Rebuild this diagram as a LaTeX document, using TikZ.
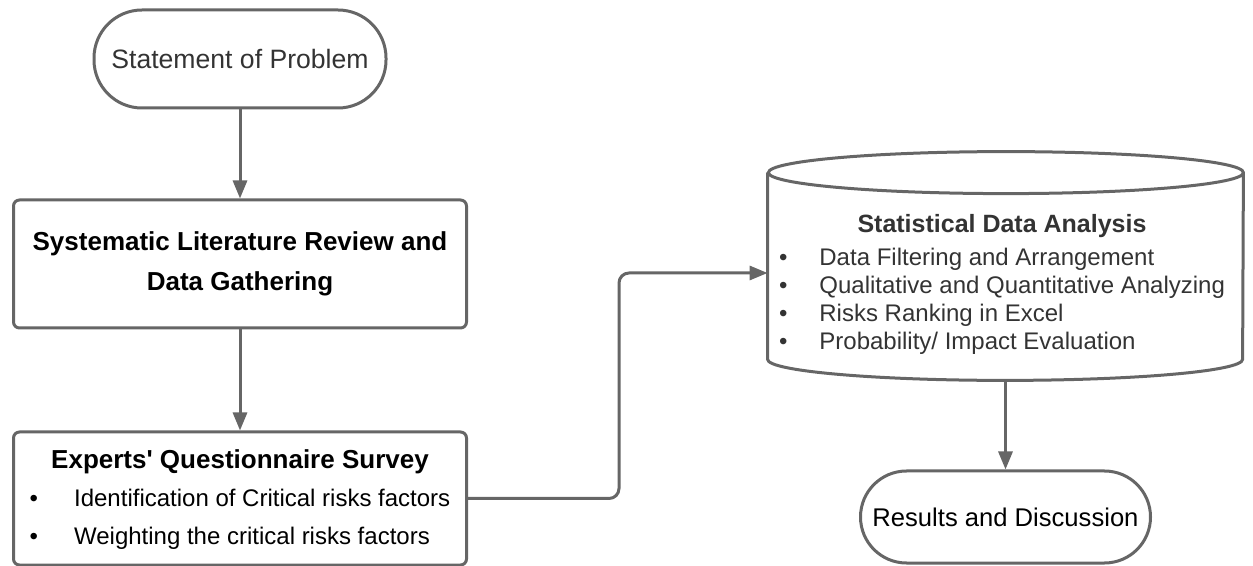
\documentclass[tikz,border=0pt]{standalone}
\usepackage{fontspec}
\setmainfont{Liberation Sans}
\usetikzlibrary{arrows.meta}
\definecolor{linegray}{HTML}{666666}
\definecolor{textgray}{HTML}{333333}
\tikzset{
  terminal/.style={draw=linegray, line width=1.5pt, rounded corners=24pt,
    minimum width=146pt, minimum height=49pt},
  procbox/.style={draw=linegray, line width=1.5pt, rounded corners=3pt,
    minimum width=226.5pt},
  datacyl/.style={minimum width=237.5pt, minimum height=114pt, inner sep=0pt},
  outline/.style={draw=linegray, line width=1.5pt},
  flow/.style={->, draw=linegray, line width=1.5pt},
}
\begin{document}
\begin{tikzpicture}[x=0.5pt, y=-0.5pt, >={Triangle[length=9pt,width=7pt]}]
  \useasboundingbox (0,0) rectangle (1253,566);
  % left column
  \node[terminal, text=textgray, font=\fontsize{13.3}{16}\selectfont] (sop) at (240,59) {Statement of Problem};
  \node[procbox, minimum height=64pt, align=center,
    font=\bfseries\fontsize{13}{20}\selectfont] (slr) at (240,264)
    {Systematic Literature Review and\\Data Gathering};
  \node[procbox, minimum height=66.5pt, font=\fontsize{12}{19}\selectfont] (eqs) at (240,498.5) {%
    \begin{tabular}{@{}l@{\hspace{18pt}}l@{}}
      \multicolumn{2}{c}{\bfseries\fontsize{13}{19}\selectfont Experts\textquotesingle{} Questionnaire Survey}\\
      \textbullet & Identification of Critical risks factors\\
      \textbullet & Weighting the critical risks factors
    \end{tabular}};
  % right column
  \node[datacyl] (sda) at (1005.5,266) {};
  \draw[outline] ([yshift=-10.5pt]sda.north west) -- ([yshift=10.5pt]sda.south west)
    arc[start angle=180, end angle=360, x radius=118.75pt, y radius=10.5pt]
    -- ([yshift=-10.5pt]sda.north east)
    arc[start angle=0, end angle=360, x radius=118.75pt, y radius=10.5pt];
  \node[text=textgray, font=\fontsize{12}{14}\selectfont] (sdatext) at (1002,285) {%
    \begin{tabular}{@{}l@{\hspace{16pt}}l@{}}
      \multicolumn{2}{c}{\bfseries\fontsize{12.5}{14}\selectfont Statistical Data Analysis}\\[2.5pt]
      \textbullet & Data Filtering and Arrangement\\
      \textbullet & Qualitative and Quantitative Analyzing\\
      \textbullet & Risks Ranking in Excel\\
      \textbullet & Probability/ Impact Evaluation
    \end{tabular}};
  \node[terminal, minimum width=145pt, minimum height=46pt, rounded corners=23pt,
    font=\fontsize{12.8}{16}\selectfont] (rad) at (1005.5,517) {Results and Discussion};

  \draw[flow] (sop) -- (slr);
  \draw[flow] (slr) -- (eqs);
  \draw[flow, rounded corners=5pt] (eqs.east) -- ++(151,0) |- ([yshift=-3.5pt]sda.west);
  \draw[flow] (sda) -- (rad);
\end{tikzpicture}
\end{document}
